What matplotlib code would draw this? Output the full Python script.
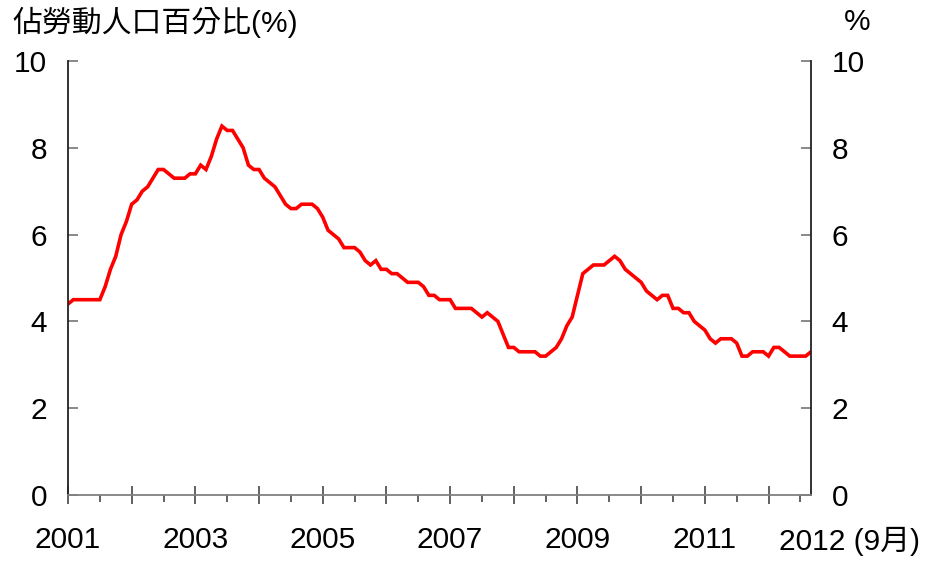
import numpy as np
import matplotlib
matplotlib.use('Agg')
import matplotlib.pyplot as plt
from matplotlib.ticker import FixedLocator

plt.rcParams['font.family'] = ['Liberation Sans', 'Noto Sans CJK TC', 'DejaVu Sans']

# monthly unemployment rate, Jan 2001 - Sep 2012 (%)
rate = [
    4.4, 4.5, 4.5, 4.5, 4.5, 4.5, 4.5, 4.8, 5.2, 5.5, 6.0, 6.3,   # 2001
    6.7, 6.8, 7.0, 7.1, 7.3, 7.5, 7.5, 7.4, 7.3, 7.3, 7.3, 7.4,   # 2002
    7.4, 7.6, 7.5, 7.8, 8.2, 8.5, 8.4, 8.4, 8.2, 8.0, 7.6, 7.5,   # 2003
    7.5, 7.3, 7.2, 7.1, 6.9, 6.7, 6.6, 6.6, 6.7, 6.7, 6.7, 6.6,   # 2004
    6.4, 6.1, 6.0, 5.9, 5.7, 5.7, 5.7, 5.6, 5.4, 5.3, 5.4, 5.2,   # 2005
    5.2, 5.1, 5.1, 5.0, 4.9, 4.9, 4.9, 4.8, 4.6, 4.6, 4.5, 4.5,   # 2006
    4.5, 4.3, 4.3, 4.3, 4.3, 4.2, 4.1, 4.2, 4.1, 4.0, 3.7, 3.4,   # 2007
    3.4, 3.3, 3.3, 3.3, 3.3, 3.2, 3.2, 3.3, 3.4, 3.6, 3.9, 4.1,   # 2008
    4.6, 5.1, 5.2, 5.3, 5.3, 5.3, 5.4, 5.5, 5.4, 5.2, 5.1, 5.0,   # 2009
    4.9, 4.7, 4.6, 4.5, 4.6, 4.6, 4.3, 4.3, 4.2, 4.2, 4.0, 3.9,   # 2010
    3.8, 3.6, 3.5, 3.6, 3.6, 3.6, 3.5, 3.2, 3.2, 3.3, 3.3, 3.3,   # 2011
    3.2, 3.4, 3.4, 3.3, 3.2, 3.2, 3.2, 3.2, 3.3,                  # 2012
]
year_labels = ['2001', '', '2003', '', '2005', '', '2007', '', '2009', '', '2011', '']
last_label = '2012 (9月)'
y_ticks = [0, 2, 4, 6, 8, 10]
left_title = '佔勞動人口百分比(%)'
right_title = '%'

FS = 21.5
months = np.arange(len(rate))

fig = plt.figure(figsize=(9.26, 5.62), dpi=100)
ax = fig.add_axes([68 / 926, 1 - 495 / 562, (811 - 68) / 926, (495 - 61) / 562])

ax.plot(months, rate, color='#ff0000', lw=2.6, solid_joinstyle='miter')

ax.set_xlim(0, len(rate) - 1)
ax.set_ylim(0, 10)

ax.spines['top'].set_visible(False)
ax.spines['left'].set_color('#222222')
ax.spines['right'].set_color('#222222')
ax.spines['bottom'].set_color('#808080')
for s in ['left', 'right', 'bottom']:
    ax.spines[s].set_linewidth(1.3)

ax.set_yticks(y_ticks)
ax.tick_params(axis='y', which='both', direction='in', length=7, width=1.3,
               color='#808080', left=True, right=True, labelleft=True,
               labelright=True, labelsize=FS, pad=15)

ax.xaxis.set_major_locator(FixedLocator(np.arange(0, len(rate), 12)))
ax.xaxis.set_minor_locator(FixedLocator(np.arange(6, len(rate), 12)))
ax.set_xticklabels(year_labels)
ax.tick_params(axis='x', which='major', direction='inout', length=13, width=1.3,
               color='#555555', labelsize=FS, pad=16)
ax.tick_params(axis='x', which='minor', direction='out', length=5, width=1.3,
               color='#555555')

ax.text(134.0, -0.106, last_label, transform=ax.get_xaxis_transform(),
        fontsize=FS, ha='left', va='center')

fig.text(12 / 926, 1 - 22 / 562, left_title, fontsize=FS, ha='left', va='center')
fig.text(857 / 926, 1 - 22 / 562, right_title, fontsize=FS, ha='center', va='center')

fig.savefig('out.png', dpi=100)
